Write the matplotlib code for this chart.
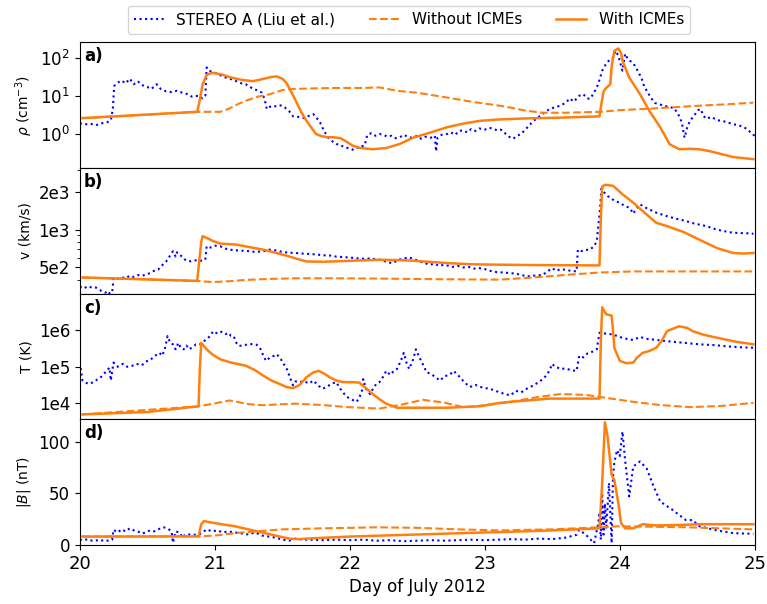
import matplotlib
matplotlib.use("Agg")
import matplotlib.pyplot as plt
from matplotlib.ticker import FixedLocator, FixedFormatter, NullLocator, NullFormatter, LogLocator

# ---------------- Panel a: density ----------------
obs_a_day = [20.00, 20.04, 20.08, 20.12, 20.16, 20.20, 20.23, 20.245, 20.255, 20.28, 20.31, 20.34, 20.37,
             20.40, 20.43, 20.46, 20.50, 20.53, 20.57, 20.60, 20.64, 20.68, 20.72, 20.76, 20.80, 20.83,
             20.88, 20.91, 20.93, 20.94, 20.96, 20.99, 21.02, 21.05, 21.08, 21.11, 21.14, 21.17, 21.20,
             21.23, 21.26, 21.29, 21.32, 21.35, 21.37, 21.385, 21.40, 21.43, 21.46, 21.49, 21.52, 21.55,
             21.58, 21.62, 21.66, 21.70, 21.73, 21.76, 21.78, 21.81, 21.84, 21.87, 21.90, 21.93, 21.96,
             22.00, 22.03, 22.06, 22.09, 22.11, 22.13, 22.16, 22.19, 22.22, 22.25, 22.28, 22.31, 22.34,
             22.37, 22.40, 22.43, 22.46, 22.50, 22.53, 22.56, 22.60, 22.63, 22.64, 22.65, 22.68, 22.72,
             22.75, 22.78, 22.81, 22.84, 22.87, 22.90, 22.93, 22.96, 23.00, 23.03, 23.06, 23.09, 23.12,
             23.15, 23.18, 23.21, 23.24, 23.27, 23.30, 23.33, 23.36, 23.40, 23.44, 23.48, 23.52, 23.56,
             23.60, 23.63, 23.66, 23.70, 23.73, 23.76, 23.78, 23.81, 23.84, 23.87, 23.90, 23.93, 23.95,
             23.97, 23.99, 24.01, 24.02, 24.04, 24.06, 24.08, 24.10, 24.12, 24.14, 24.16, 24.18, 24.20,
             24.23, 24.26, 24.29, 24.33, 24.37, 24.40, 24.43, 24.46, 24.48, 24.50, 24.52, 24.55, 24.58,
             24.60, 24.62, 24.64, 24.68, 24.72, 24.76, 24.80, 24.84, 24.88, 24.92, 24.95, 24.98, 25.00]
obs_a_rho = [1.9, 1.8, 1.85, 1.7, 1.9, 2.0, 2.3, 4.5, 18, 22, 25, 21, 28,
             20, 24, 19, 17, 15, 20, 15, 13, 12.5, 13.5, 12, 11, 9.5,
             10, 8.5, 10, 55, 45, 41, 38, 33, 30, 28, 26, 23, 21,
             20, 17, 15, 13.6, 12, 8, 4.5, 5, 5.5, 5.2, 5.6, 4.9, 4.0,
             2.9, 2.8, 2.6, 3.0, 3.3, 2.5, 2.0, 1.2, 0.8, 0.65, 0.55, 0.52, 0.45,
             0.42, 0.38, 0.45, 0.48, 0.5, 0.95, 1.05, 0.9, 1.0, 0.95, 0.85, 0.9, 0.78,
             0.82, 0.95, 0.85, 0.8, 0.9, 0.75, 0.85, 0.8, 0.9, 0.35, 0.8, 0.95, 1.0,
             1.1, 0.95, 1.2, 1.25, 1.1, 1.35, 1.2, 1.4, 1.3, 1.45, 1.4, 1.25, 1.3,
             1.05, 0.85, 0.75, 0.9, 1.0, 1.3, 1.7, 2.2, 2.8, 3.6, 4.5, 5.0, 5.5,
             6.6, 8.5, 7.0, 10, 11, 8.5, 8.3, 12, 20, 45, 70, 90, 100,
             150, 110, 60, 45, 125, 90, 80, 70, 55, 40, 30, 18, 13.5,
             9, 6.5, 6, 5.5, 5, 4.8, 3.5, 2, 0.8, 1.5, 2.2, 3.0, 4.2,
             4.5, 3.0, 2.5, 2.8, 2.3, 2.2, 2.0, 1.8, 1.7, 1.5, 1.3, 1.0, 0.9]

icme_a_day = [20.02, 20.87, 20.89, 20.91, 20.94, 20.98, 21.05, 21.12, 21.20, 21.28, 21.35, 21.42, 21.46,
              21.50, 21.53, 21.57, 21.60, 21.64, 21.68, 21.72, 21.75, 21.79, 21.83, 21.88, 21.93, 21.97,
              22.02, 22.08, 22.17, 22.27, 22.37, 22.47, 22.60, 22.72, 22.85, 22.96, 23.10, 23.30, 23.60,
              23.85, 23.86, 23.88, 23.90, 23.93, 23.94, 23.96, 23.99, 24.01, 24.02, 24.07, 24.15, 24.22,
              24.30, 24.37, 24.44, 24.52, 24.59, 24.66, 24.72, 24.84, 24.99]
icme_a_rho = [2.6, 3.8, 8, 20, 35, 40, 36, 30, 26, 24, 27, 31, 32,
              28, 22, 12, 7.4, 3.8, 2.2, 1.4, 1.0, 0.88, 0.83, 0.82, 0.78, 0.65,
              0.5, 0.43, 0.4, 0.43, 0.55, 0.8, 1.1, 1.5, 1.9, 2.2, 2.4, 2.55, 2.7,
              2.9, 5, 13, 16, 20, 60, 150, 173, 130, 83, 30, 11, 4,
              1.5, 0.54, 0.4, 0.41, 0.4, 0.36, 0.32, 0.25, 0.22]

noicme_a_day = [20.02, 20.87, 21.04, 21.10, 21.17, 21.23, 21.32, 21.41, 21.50, 21.56, 21.70, 21.90, 22.10,
                22.22, 22.35, 22.50, 22.72, 22.90, 23.11, 23.19, 23.30, 23.43, 23.60, 23.85, 24.00, 24.22,
                24.40, 24.59, 24.80, 24.99]
noicme_a_rho = [2.6, 3.8, 3.8, 4.5, 6, 7.4, 9.5, 11, 14, 15, 15.5, 16, 16,
                16.5, 13.5, 12, 9, 7, 5.5, 4.9, 4.1, 3.6, 3.6, 3.8, 4.2, 4.6,
                5, 5.5, 6, 6.6]

# ---------------- Panel b: speed ----------------
obs_b_day = [20.00, 20.03, 20.06, 20.09, 20.12, 20.15, 20.17, 20.19, 20.21, 20.22, 20.24, 20.25, 20.28,
             20.31, 20.34, 20.37, 20.40, 20.43, 20.46, 20.49, 20.52, 20.55, 20.58, 20.61, 20.64, 20.66,
             20.68, 20.69, 20.71, 20.72, 20.74, 20.76, 20.79, 20.82, 20.86, 20.90, 20.93, 20.94, 20.97,
             21.00, 21.04, 21.07, 21.11, 21.15, 21.20, 21.25, 21.30, 21.36, 21.40, 21.45, 21.50, 21.55,
             21.60, 21.65, 21.70, 21.75, 21.80, 21.85, 21.90, 21.95, 22.00, 22.05, 22.10, 22.15, 22.22,
             22.26, 22.30, 22.32, 22.36, 22.40, 22.44, 22.48, 22.52, 22.56, 22.59, 22.63, 22.66, 22.70,
             22.72, 22.76, 22.80, 22.84, 22.88, 22.92, 22.96, 23.00, 23.04, 23.09, 23.15, 23.20, 23.26,
             23.31, 23.36, 23.43, 23.47, 23.50, 23.53, 23.56, 23.60, 23.64, 23.68, 23.69, 23.72, 23.75,
             23.78, 23.81, 23.83, 23.84, 23.855, 23.865, 23.88, 23.91, 23.93, 23.96, 24.00, 24.03, 24.07,
             24.09, 24.10, 24.12, 24.15, 24.20, 24.27, 24.35, 24.42, 24.47, 24.55, 24.64, 24.72, 24.80,
             24.84, 24.90, 24.95, 24.99]
obs_b_v = [352, 340, 355, 345, 346, 330, 320, 315, 325, 311, 315, 410, 405,
           418, 410, 430, 420, 435, 428, 440, 450, 470, 480, 520, 558, 600,
           650, 672, 610, 660, 640, 600, 566, 560, 570, 566, 575, 738, 720,
           745, 738, 710, 693, 685, 680, 675, 665, 672, 693, 685, 665, 655,
           652, 645, 640, 635, 625, 623, 610, 605, 600, 592, 587, 590, 576,
           560, 545, 542, 575, 590, 601, 580, 558, 540, 526, 535, 515, 525,
           519, 505, 515, 500, 505, 490, 494, 485, 470, 459, 455, 450, 440,
           424, 430, 436, 470, 494, 470, 485, 479, 470, 465, 693, 675, 690,
           693, 740, 809, 1035, 1500, 2235, 2000, 1850, 1800, 1700, 1640, 1560, 1495,
           1400, 1340, 1450, 1590, 1480, 1365, 1280, 1220, 1186, 1120, 1067, 1000, 960,
           944, 940, 935, 927]

icme_b_day = [20.02, 20.87, 20.88, 20.90, 20.91, 20.95, 20.99, 21.04, 21.16, 21.26, 21.36, 21.45, 21.53,
              21.61, 21.68, 21.80, 21.95, 22.10, 22.22, 22.35, 22.47, 22.60, 22.72, 22.90, 23.10, 23.40,
              23.85, 23.86, 23.87, 23.89, 23.95, 24.02, 24.10, 24.17, 24.27, 24.35, 24.47, 24.59, 24.72,
              24.84, 24.92, 24.99]
icme_b_v = [416, 391, 500, 800, 887, 850, 809, 775, 760, 725, 693, 655, 621,
            585, 558, 555, 562, 570, 576, 572, 566, 553, 542, 530, 526, 522,
            519, 1200, 2200, 2275, 2235, 1915, 1640, 1406, 1135, 1067, 960, 832, 714,
            652, 645, 652]

noicme_b_day = [20.02, 20.87, 20.93, 20.99, 21.10, 21.23, 21.40, 21.60, 21.85, 22.20, 22.47, 22.80, 23.11,
                23.36, 23.60, 23.85, 24.10, 24.50, 24.99]
noicme_b_v = [416, 391, 386, 383, 388, 398, 405, 410, 410, 408, 405, 402, 400,
              416, 436, 456, 465, 465, 465]

# ---------------- Panel c: temperature ----------------
obs_c_day = [20.00, 20.02, 20.05, 20.07, 20.10, 20.13, 20.15, 20.18, 20.20, 20.22, 20.23, 20.25, 20.28,
             20.32, 20.35, 20.39, 20.42, 20.46, 20.49, 20.52, 20.55, 20.59, 20.61, 20.63, 20.65, 20.67,
             20.69, 20.71, 20.73, 20.75, 20.77, 20.79, 20.81, 20.84, 20.86, 20.89, 20.92, 20.95, 20.99,
             21.02, 21.05, 21.08, 21.10, 21.12, 21.14, 21.16, 21.18, 21.22, 21.26, 21.31, 21.34, 21.36,
             21.38, 21.41, 21.44, 21.46, 21.49, 21.51, 21.53, 21.55, 21.58, 21.60, 21.63, 21.66, 21.70,
             21.73, 21.77, 21.80, 21.84, 21.87, 21.90, 21.93, 21.96, 21.98, 22.01, 22.05, 22.07, 22.09,
             22.10, 22.12, 22.15, 22.18, 22.20, 22.22, 22.25, 22.27, 22.30, 22.33, 22.35, 22.38, 22.40,
             22.42, 22.44, 22.47, 22.49, 22.51, 22.54, 22.57, 22.60, 22.64, 22.67, 22.70, 22.74, 22.77,
             22.80, 22.83, 22.86, 22.89, 22.93, 22.97, 23.01, 23.04, 23.08, 23.11, 23.15, 23.19, 23.23,
             23.27, 23.31, 23.36, 23.40, 23.43, 23.46, 23.48, 23.50, 23.52, 23.54, 23.56, 23.60, 23.64,
             23.68, 23.70, 23.73, 23.76, 23.80, 23.83, 23.85, 23.90, 23.95, 24.00, 24.05, 24.07, 24.10,
             24.15, 24.20, 24.27, 24.35, 24.45, 24.59, 24.70, 24.80, 24.90, 24.99]
obs_c_T = [1.3e5, 4.2e4, 3.6e4, 3.4e4, 3.8e4, 4.5e4, 4.9e4, 6.5e4, 7.7e4, 9.5e4, 4.2e4, 1.3e5, 1.0e5,
           1.2e5, 1.0e5, 1.07e5, 1.2e5, 1.1e5, 1.4e5, 1.5e5, 1.9e5, 2.4e5, 2.0e5, 3.0e5, 6.9e5, 4.5e5,
           4.1e5, 3.0e5, 4.5e5, 3.2e5, 3.0e5, 3.8e5, 3.0e5, 3.5e5, 4.1e5, 4.1e5, 5.0e5, 6.0e5, 9.4e5,
           8.0e5, 9.0e5, 7.8e5, 8.5e5, 7.0e5, 6.9e5, 4.5e5, 3.7e5, 3.9e5, 4.2e5, 4.0e5, 3.0e5, 2.0e5,
           1.45e5, 1.8e5, 2.0e5, 2.2e5, 1.6e5, 1.2e5, 9.5e4, 6.0e4, 3.1e4, 4.0e4, 3.8e4, 4.0e4, 3.5e4,
           4.2e4, 3.0e4, 2.5e4, 3.0e4, 3.5e4, 3.8e4, 2.5e4, 1.8e4, 1.5e4, 1.3e4, 1.1e4, 1.4e4, 2.2e4,
           4.6e4, 2.5e4, 1.8e4, 2.8e4, 3.5e4, 3.8e4, 5.5e4, 7.7e4, 6.0e4, 8.0e4, 8.7e4, 1.5e5, 2.4e5,
           1.3e5, 8.7e4, 1.6e5, 3.0e5, 2.0e5, 1.2e5, 7.0e4, 6.5e4, 5.0e4, 4.2e4, 5.5e4, 6.0e4, 7.7e4,
           6.0e4, 4.5e4, 3.5e4, 2.8e4, 3.2e4, 2.8e4, 2.6e4, 2.5e4, 2.2e4, 2.0e4, 1.8e4, 1.65e4, 2.2e4,
           2.0e4, 2.5e4, 3.1e4, 3.8e4, 4.6e4, 6.0e4, 8.0e4, 1.2e5, 1.0e5, 9.5e4, 8.7e4, 9.0e4, 8.0e4,
           7.7e4, 2.0e5, 1.8e5, 2.3e5, 2.6e5, 3.0e5, 8.5e5, 8.0e5, 7.6e5, 6.5e5, 5.8e5, 5.6e5, 5.4e5,
           6.5e5, 5.8e5, 5.4e5, 5.0e5, 4.6e5, 4.1e5, 3.9e5, 3.6e5, 3.4e5, 3.3e5]

icme_c_day = [20.02, 20.50, 20.88, 20.89, 20.90, 20.94, 20.98, 21.04, 21.12, 21.23, 21.30, 21.36, 21.42,
              21.48, 21.53, 21.58, 21.63, 21.68, 21.73, 21.77, 21.81, 21.85, 21.90, 21.95, 22.02, 22.07,
              22.12, 22.17, 22.22, 22.27, 22.35, 22.72, 22.96, 23.11, 23.19, 23.48, 23.85, 23.86, 23.87,
              23.90, 23.94, 23.95, 23.96, 24.00, 24.05, 24.10, 24.13, 24.17, 24.22, 24.27, 24.31, 24.35,
              24.44, 24.50, 24.54, 24.62, 24.72, 24.85, 24.99]
icme_c_T = [5e3, 5.8e3, 8.3e3, 1e5, 4.5e5, 3e5, 2.2e5, 1.6e5, 1.3e5, 1.07e5, 8e4, 5.7e4, 4.2e4,
            3.4e4, 2.8e4, 2.6e4, 3.2e4, 5.2e4, 7e4, 7.7e4, 6.5e4, 5.2e4, 4.2e4, 3.8e4, 3.8e4, 3.7e4,
            2.6e4, 1.8e4, 1.3e4, 9.8e3, 7.6e3, 7.6e3, 8.3e3, 1.03e4, 1.1e4, 1.35e4, 1.35e4, 5e5, 4.2e6,
            2.7e6, 2.5e6, 1e6, 3.3e5, 1.45e5, 1.25e5, 1.3e5, 1.8e5, 2.4e5, 2.7e5, 3.3e5, 5e5, 9.4e5,
            1.28e6, 1.15e6, 9.4e5, 7.5e5, 6.2e5, 4.9e5, 4.1e5]

noicme_c_day = [20.02, 20.88, 21.00, 21.11, 21.25, 21.36, 21.50, 21.60, 21.80, 21.98, 22.22, 22.40, 22.54,
                22.70, 22.84, 23.00, 23.19, 23.40, 23.56, 23.75, 23.85, 24.00, 24.10, 24.30, 24.52, 24.75,
                24.99]
noicme_c_T = [5e3, 8.3e3, 1.0e4, 1.2e4, 9.5e3, 8.9e3, 9.5e3, 9.8e3, 9e3, 7.9e3, 7.2e3, 9.5e3, 1.25e4,
              1.05e4, 7.9e3, 8.8e3, 1.1e4, 1.5e4, 1.8e4, 1.7e4, 1.5e4, 1.25e4, 1.1e4, 9e3, 7.9e3, 8.5e3,
              1.03e4]

# ---------------- Panel d: magnetic field ----------------
obs_d_day = [20.00, 20.03, 20.06, 20.09, 20.12, 20.15, 20.18, 20.21, 20.24, 20.25, 20.28, 20.31, 20.34,
             20.37, 20.40, 20.43, 20.46, 20.49, 20.52, 20.55, 20.58, 20.62, 20.65, 20.68, 20.69, 20.71,
             20.74, 20.76, 20.78, 20.82, 20.86, 20.90, 20.94, 20.98, 21.02, 21.06, 21.10, 21.15, 21.20,
             21.25, 21.30, 21.35, 21.40, 21.45, 21.50, 21.55, 21.60, 21.65, 21.70, 21.80, 21.90, 22.00,
             22.10, 22.20, 22.30, 22.40, 22.50, 22.60, 22.70, 22.80, 22.90, 23.00, 23.10, 23.20, 23.30,
             23.40, 23.50, 23.60, 23.68, 23.70, 23.75, 23.81, 23.84, 23.85, 23.86, 23.87, 23.88, 23.89,
             23.90, 23.92, 23.94, 23.95, 23.96, 23.98, 24.00, 24.02, 24.04, 24.07, 24.10, 24.15, 24.20,
             24.25, 24.30, 24.39, 24.49, 24.54, 24.59, 24.72, 24.84, 24.99]
obs_d_B = [5, 4.5, 5.5, 4, 4.5, 3.5, 4.8, 4.0, 5, 14.6, 12, 15, 13,
           16, 14, 13, 11, 12, 14, 13, 15, 17, 16, 13, 2, 13,
           12, 7, 10, 10, 9.7, 11, 15, 13, 14, 12, 13, 12, 11,
           10, 12, 9, 8, 7, 5, 4, 6, 5, 5, 4.5, 5, 4.5,
           5, 4, 4.5, 3.5, 4, 4.5, 4, 4.5, 5, 4.5, 5, 5.5, 5,
           6, 5.5, 7, 9.7, 14.6, 9.7, 1.6, 20, 31, 5, 50, 10, 40,
           15, 60, 1.6, 66, 80, 92, 86, 110, 82, 47, 76, 81, 74,
           57, 42, 34, 24, 24, 18, 14, 11.3, 10.7]

icme_d_day = [20.02, 20.88, 20.90, 20.92, 20.96, 21.05, 21.15, 21.25, 21.35, 21.45, 21.55, 21.62, 21.75,
              22.00, 22.50, 23.00, 23.11, 23.50, 23.85, 23.87, 23.89, 23.91, 23.94, 23.96, 23.99, 24.01,
              24.04, 24.10, 24.17, 24.27, 24.47, 24.59, 24.99]
icme_d_B = [8, 8.2, 20, 23, 22, 20, 18, 15, 12, 9, 6, 5.5, 6.5,
            8, 10, 12, 12.3, 14, 16, 60, 119, 105, 68, 63, 40, 21,
            16, 16, 20, 18.8, 19.4, 20, 20]

noicme_d_day = [20.02, 20.88, 21.00, 21.20, 21.50, 21.80, 22.20, 22.50, 22.80, 23.11, 23.50, 23.85, 24.00,
                24.50, 24.99]
noicme_d_B = [8, 8.2, 9, 12, 15, 16, 17, 16.5, 15, 14, 15, 17, 18,
              17, 15]

panel_letters = ["a)", "b)", "c)", "d)"]
ylabels = [r"$\rho$ (cm$^{-3}$)", "v (km/s)", "T (K)", r"$|B|$ (nT)"]
series_labels = ["STEREO A (Liu et al.)", "Without ICMEs", "With ICMEs"]

OBS_COLOR = "blue"
SIM_COLOR = "#ff7f0e"

fig, axes = plt.subplots(4, 1, figsize=(7.67, 6.04), dpi=100, sharex=True)
fig.subplots_adjust(left=0.104, right=0.984, top=0.930, bottom=0.098, hspace=0)

data = [
    (obs_a_day, obs_a_rho, noicme_a_day, noicme_a_rho, icme_a_day, icme_a_rho),
    (obs_b_day, obs_b_v, noicme_b_day, noicme_b_v, icme_b_day, icme_b_v),
    (obs_c_day, obs_c_T, noicme_c_day, noicme_c_T, icme_c_day, icme_c_T),
    (obs_d_day, obs_d_B, noicme_d_day, noicme_d_B, icme_d_day, icme_d_B),
]

handles = []
for i, (ax, d) in enumerate(zip(axes, data)):
    h1, = ax.plot(d[0], d[1], linestyle=":", color=OBS_COLOR, lw=1.5)
    h2, = ax.plot(d[2], d[3], linestyle="--", color=SIM_COLOR, lw=1.5)
    h3, = ax.plot(d[4], d[5], linestyle="-", color=SIM_COLOR, lw=1.8)
    if i == 0:
        handles = [h1, h2, h3]
    ax.set_ylabel(ylabels[i], fontsize=10)
    ax.text(0.006, 0.96, panel_letters[i], transform=ax.transAxes, fontsize=12,
            fontweight="bold", va="top", ha="left")
    ax.tick_params(axis="y", labelsize=12)

# panel a
axes[0].set_yscale("log")
axes[0].set_ylim(0.13, 250)
axes[0].yaxis.set_major_locator(FixedLocator([1, 10, 100]))
axes[0].yaxis.set_minor_locator(NullLocator())

# panel b
axes[1].set_yscale("log")
axes[1].set_ylim(310, 3100)
axes[1].yaxis.set_major_locator(FixedLocator([500, 1000, 2000]))
axes[1].yaxis.set_major_formatter(FixedFormatter(["5e2", "1e3", "2e3"]))
axes[1].yaxis.set_minor_locator(LogLocator(base=10, subs=[3, 4, 6, 7, 8, 9]))
axes[1].yaxis.set_minor_formatter(NullFormatter())

# panel c
axes[2].set_yscale("log")
axes[2].set_ylim(3.7e3, 1e7)
axes[2].yaxis.set_major_locator(FixedLocator([1e4, 1e5, 1e6]))
axes[2].yaxis.set_major_formatter(FixedFormatter(["1e4", "1e5", "1e6"]))
axes[2].yaxis.set_minor_locator(NullLocator())

# panel d
axes[3].set_ylim(0, 122)
axes[3].set_yticks([0, 50, 100])

axes[3].set_xlim(20, 25)
axes[3].set_xticks([20, 21, 22, 23, 24, 25])
axes[3].tick_params(axis="x", labelsize=13)
for ax in axes[:3]:
    ax.tick_params(axis="x", bottom=False, labelbottom=False)
axes[3].set_xlabel("Day of July 2012", fontsize=12)

fig.legend(handles, series_labels, loc="center", bbox_to_anchor=(0.533, 0.967),
           ncol=3, fontsize=11, columnspacing=2.2, frameon=True)

fig.savefig("out.png", dpi=100)
